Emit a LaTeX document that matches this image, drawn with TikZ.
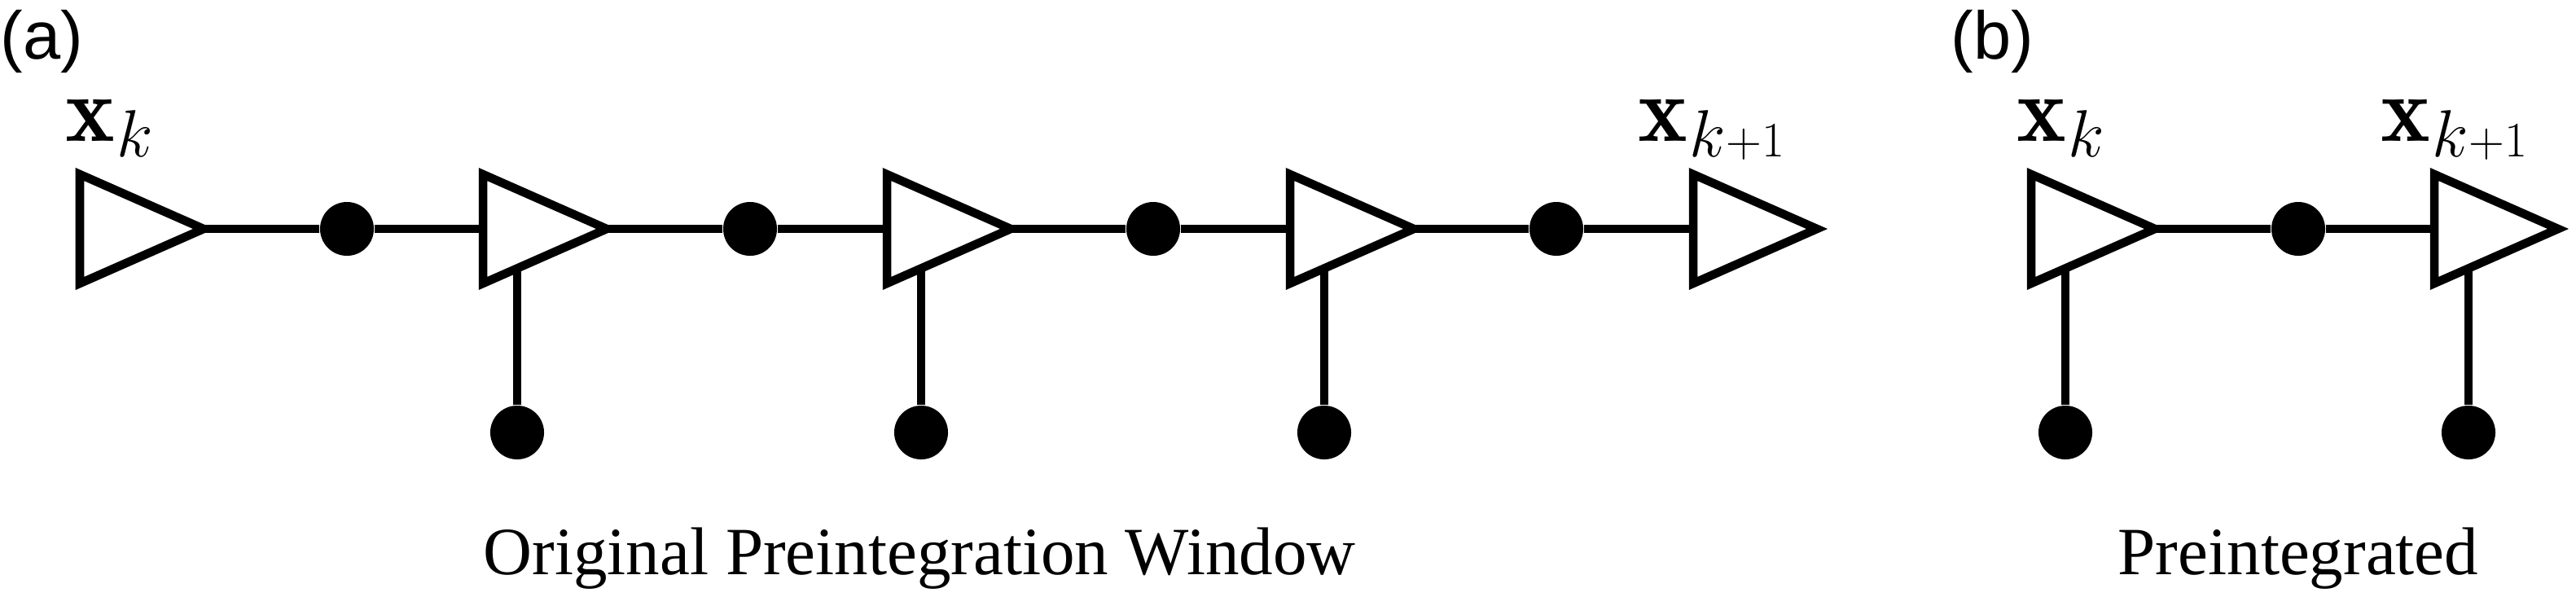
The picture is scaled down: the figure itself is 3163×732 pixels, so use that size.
\RequirePackage{fix-cm}
\documentclass[tikz,border=0pt]{standalone}
\usepackage{fontspec}
\newfontfamily\capfont{Liberation Serif}
\newfontfamily\tagfont{Liberation Sans}
\newcommand\statelab[1]{{\fontsize{32.7}{36}\selectfont$\mathbf{x}$}\kern0.02cm\raisebox{-0.19cm}{\fontsize{23.3}{28}\selectfont$k$#1}}
\newcommand\plusone{\kern0.01cm{\fontsize{17.3}{20}\selectfont$+1$}}
\tikzset{
  ln/.style={line width=0.105cm, black},
  blob/.style={circle, fill=black, draw=none, inner sep=0pt, minimum size=0.66cm},
  mathlab/.style={inner sep=0pt},
  captext/.style={inner sep=0pt, font=\capfont\fontsize{23.6}{28}\selectfont},
  tagtext/.style={inner sep=0pt, font=\tagfont\fontsize{23.6}{28}\selectfont},
  tri/.pic={
    \draw[ln, fill=white] (0,-67) -- (152,0) -- (0,67) -- cycle;
    \coordinate (-in) at (0,0);
    \coordinate (-out) at (152,0);
    \coordinate (-stem) at (42,48.5);
  }
}
\begin{document}
\begin{tikzpicture}[x=0.01cm, y=-0.01cm]
\useasboundingbox (0,0) rectangle (3163,732);
% (a) chain
\pic (t1) at (98,281) {tri};
\pic (t2) at (593,281) {tri};
\pic (t3) at (1089,281) {tri};
\pic (t4) at (1584,281) {tri};
\pic (t5) at (2079,281) {tri};
\node[blob] (d1) at (426,281) {};
\node[blob] (d2) at (921,281) {};
\node[blob] (d3) at (1416,281) {};
\node[blob] (d4) at (1911,281) {};
\node[blob] (e2) at (635,531) {};
\node[blob] (e3) at (1131,531) {};
\node[blob] (e4) at (1626,531) {};
\draw[ln] (t1-out) -- (d1) -- (t2-in);
\draw[ln] (t2-out) -- (d2) -- (t3-in);
\draw[ln] (t3-out) -- (d3) -- (t4-in);
\draw[ln] (t4-out) -- (d4) -- (t5-in);
\draw[ln] (t2-stem) -- (e2);
\draw[ln] (t3-stem) -- (e3);
\draw[ln] (t4-stem) -- (e4);
% (b) chain
\pic (u1) at (2494,281) {tri};
\pic (u2) at (2989,281) {tri};
\node[blob] (f) at (2822,281) {};
\node[blob] (g1) at (2536,531) {};
\node[blob] (g2) at (3031,531) {};
\draw[ln] (u1-out) -- (f) -- (u2-in);
\draw[ln] (u1-stem) -- (g1);
\draw[ln] (u2-stem) -- (g2);
% labels
\node[tagtext, anchor=base west] (ta) at (0,72) {(a)};
\node[tagtext, anchor=base west] (tb) at (2395,72) {(b)};
\node[mathlab, anchor=base west] (l1) at (80,173) {\statelab{}};
\node[mathlab, anchor=base west] (l2) at (2011,173) {\statelab{\plusone}};
\node[mathlab, anchor=base west] (l3) at (2476,173) {\statelab{}};
\node[mathlab, anchor=base west] (l4) at (2923,173) {\statelab{\plusone}};
\node[captext, anchor=base] (c1) at (1129,705) {Original Preintegration Window};
\node[captext, anchor=base] (c2) at (2822,705) {Preintegrated};
\end{tikzpicture}
\end{document}
